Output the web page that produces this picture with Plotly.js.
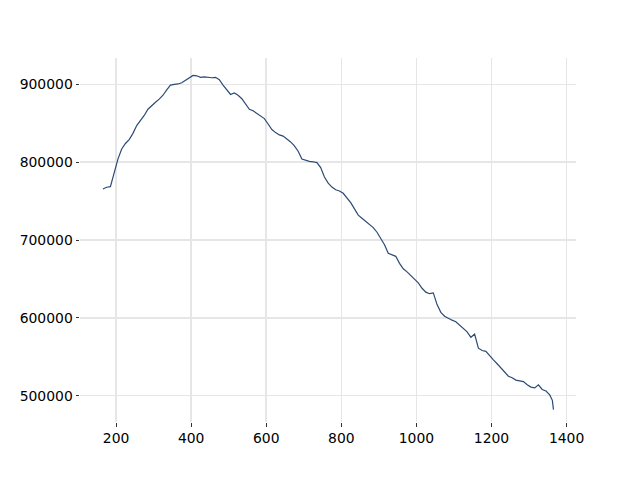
<!DOCTYPE html>
<html>
<head>
<meta charset="utf-8">
<script src="https://cdn.plot.ly/plotly-3.0.1.min.js"></script>
<style>html,body{margin:0;padding:0;background:#fff;}</style>
</head>
<body>
<div id="chart" style="width:640px;height:480px;"></div>
<script>
const xValues = [165,175,185,195,205,215,225,235,245,255,265,275,285,295,305,315,325,335,345,355,365,375,385,395,405,415,425,435,445,455,465,475,485,495,505,515,525,535,545,555,565,575,585,595,605,615,625,635,645,655,665,675,685,695,705,715,725,735,745,755,765,775,785,795,805,815,825,835,845,855,865,875,885,895,905,915,925,935,945,955,965,975,985,995,1005,1015,1025,1035,1045,1055,1065,1075,1085,1095,1105,1115,1125,1135,1145,1155,1165,1175,1185,1195,1205,1215,1225,1235,1245,1255,1265,1275,1285,1295,1305,1315,1325,1335,1345,1355,1362,1365];
const yValues = [765500,767800,768500,786000,804000,817000,824000,829000,837000,847000,853000,860000,868000,873000,877000,881000,886000,893000,899000,900000,900500,902000,905000,909000,911500,911000,909000,909500,909000,908500,909000,906000,899000,893000,887000,889000,886000,881500,874000,868000,866000,863000,860000,856000,849000,842000,838000,835000,833500,830000,826000,821000,814000,804000,802000,801000,800500,799500,793000,781000,773000,768000,764500,763000,760000,754000,748000,740000,732000,728000,724000,720000,716000,710000,702000,694000,683000,681000,679000,670000,663000,659000,654000,649000,645000,638000,633000,631000,632000,617000,607000,602000,599000,597000,595000,591000,587000,582000,575000,579000,561000,558000,557000,551000,546000,541000,536000,530000,525000,523000,520000,519000,518000,514000,511000,510000,514000,508000,506000,501000,494000,482000];
const xTicks = [200,400,600,800,1000,1200,1400];
const yTicks = [500000,600000,700000,800000,900000];

const trace = {
  x: xValues, y: yValues, type: 'scatter', mode: 'lines',
  line: {color: '#2c4b74', width: 1.2}, hoverinfo: 'skip'
};
const axisCommon = {
  showline: false, zeroline: false, showgrid: true,
  gridcolor: '#e6e6e6', gridwidth: 1.6,
  ticks: 'outside', ticklen: 3.5, tickwidth: 0.8, tickcolor: '#000',
  tickfont: {family: 'DejaVu Sans', size: 13.9, color: '#000'},
  tickformat: 'd'
};
const layout = {
  width: 640, height: 480,
  margin: {l: 80, r: 64, t: 58, b: 58, pad: 0},
  paper_bgcolor: '#fff', plot_bgcolor: '#fff',
  showlegend: false,
  xaxis: Object.assign({}, axisCommon, {range: [104, 1425], tickvals: xTicks}),
  yaxis: Object.assign({}, axisCommon, {range: [466154, 933846], tickvals: yTicks})
};
Plotly.newPlot('chart', [trace], layout, {displayModeBar: false, staticPlot: true});
</script>
</body>
</html>
